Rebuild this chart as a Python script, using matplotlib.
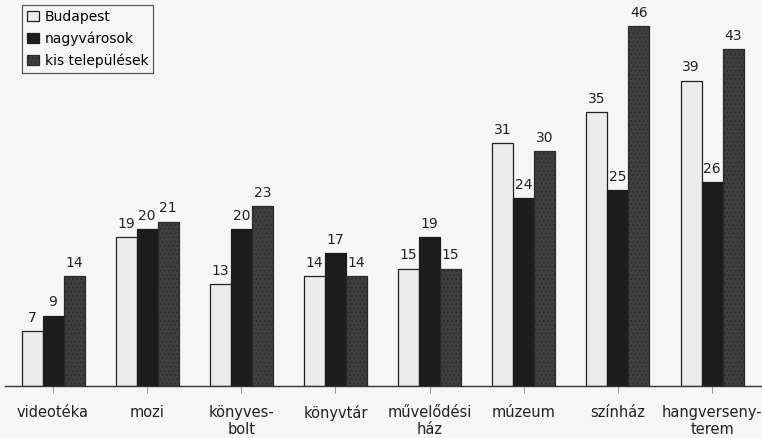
import numpy as np
import matplotlib.pyplot as plt

# data
categories = ["videotéka", "mozi", "könyves-\nbolt", "könyvtár", "művelődési\nház",
              "múzeum", "színház", "hangverseny-\nterem"]
budapest = [7, 19, 13, 14, 15, 31, 35, 39]
nagyvarosok = [9, 20, 20, 17, 19, 24, 25, 26]
kis_telepulesek = [14, 21, 23, 14, 15, 30, 46, 43]

series_names = ["Budapest", "nagyvárosok", "kis települések"]

plt.rcParams['font.family'] = ['DejaVu Sans']
plt.rcParams['hatch.color'] = '#8a8a8a'
plt.rcParams['hatch.linewidth'] = 0.6

fig = plt.figure(figsize=(7.62, 4.38), dpi=100, facecolor='#f6f6f6')
ax = fig.add_axes([5 / 762, 52 / 438, 757 / 762, 386 / 438])
ax.set_facecolor('#f6f6f6')

x = np.arange(len(categories))
w = 0.223

b1 = ax.bar(x - w, budapest, w, color='#ececec', edgecolor='#222222', linewidth=0.9,
            label=series_names[0])
b2 = ax.bar(x, nagyvarosok, w, color='#1c1c1c', edgecolor='#1c1c1c', linewidth=0.9,
            label=series_names[1])
b3 = ax.bar(x + w, kis_telepulesek, w, color='#3e3e3e', edgecolor='#2a2a2a', linewidth=0.9,
            hatch='....', label=series_names[2])

for bars, vals in [(b1, budapest), (b2, nagyvarosok), (b3, kis_telepulesek)]:
    for bar, v in zip(bars, vals):
        ax.annotate(str(v), (bar.get_x() + bar.get_width() / 2, v),
                    xytext=(0, 4.5), textcoords='offset points',
                    ha='center', va='bottom', fontsize=10, color='#222222')

ax.set_xlim(-0.51, 7.53)
ax.set_ylim(0, 49.3)
ax.set_xticks(x)
ax.set_xticklabels(categories, fontsize=10.5, color='#222222', linespacing=1.15)
ax.tick_params(axis='x', length=5, width=0.6, color='#888888', pad=9)
ax.set_yticks([])
for s in ['top', 'right', 'left']:
    ax.spines[s].set_visible(False)
ax.spines['bottom'].set_color('#333333')
ax.spines['bottom'].set_linewidth(1.0)

leg = ax.legend(loc='upper left', bbox_to_anchor=(17 / 757, 1 - 5 / 386), borderaxespad=0,
                frameon=True, fancybox=False, edgecolor='#333333', handlelength=0.9,
                handleheight=0.75, handletextpad=0.4, borderpad=0.35, labelspacing=0.55,
                prop={'size': 10})
leg.get_frame().set_linewidth(0.9)
leg.get_frame().set_facecolor('#f6f6f6')

fig.savefig('out.png', dpi=100, facecolor=fig.get_facecolor())
